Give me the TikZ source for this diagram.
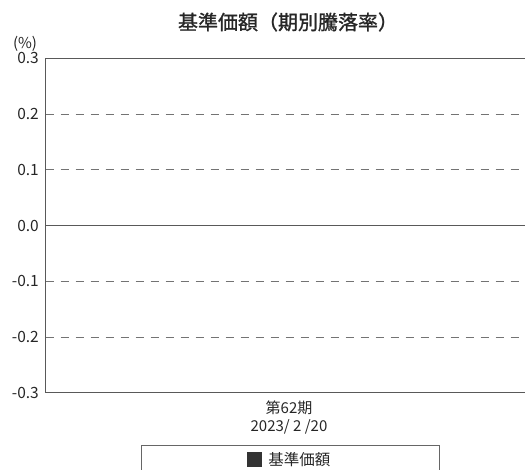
\documentclass[tikz,border=0pt]{standalone}
\usepackage{fontspec}
\setmainfont{Noto Sans CJK JP}
\newfontfamily\titlefont[FakeBold=1.2]{Noto Sans CJK JP}
\usetikzlibrary{positioning}

\begin{document}
\begin{tikzpicture}[x=1pt,y=-1pt]
\tikzstyle{every node}=[inner sep=0pt, text=black!85]
\tikzstyle{tick}=[anchor=east, font=\fontsize{15.5}{18}\selectfont]
\tikzstyle{frame}=[draw=black!65, line width=0.9pt]
\tikzstyle{grid}=[draw=black!55, line width=0.8pt, dash pattern=on 8pt off 7pt]
\useasboundingbox (0,0) rectangle (525,470);
\node (title) at (288,22) {\fontsize{20}{23}\selectfont\titlefont 基準価額（期別騰落率）};
\node (unit) at (25,44) {\fontsize{15}{17}\selectfont (\%)};
% y axis labels and grid lines
\foreach \lab [count=\i from 0] in {0.3,0.2,0.1,0.0,-0.1,-0.2,-0.3} {
  \pgfmathsetmacro{\yy}{58.3+55.73*\i}
  \node[tick] (t\i) at (39,\yy) {\lab};
  \coordinate (g\i) at (45.5,\yy);
  \coordinate (h\i) at (525,\yy);
}
\foreach \i in {1,2,4,5} \draw[grid] (g\i) -- (h\i);
\draw[frame] (h0) -- (g0) -- (g6) -- (h6);
\draw[frame] (g3) -- (h3);
% period label
\node[font=\fontsize{15}{17}\selectfont] (per) at (289,408) {第62期};
\node[font=\fontsize{15}{17}\selectfont, below=4pt of per] (date) {2023/ 2 /20};
% legend
\coordinate (la) at (141.7,470);
\coordinate (lb) at (439.3,470);
\draw[draw=black!60, line width=0.9pt] (la) |- (lb |- 0,445.7) -- (lb);
\node[fill=black!80, minimum size=15pt] (key) at (254.5,459.3) {};
\node[right=6pt of key, font=\fontsize{15.5}{18}\selectfont] (leg) {基準価額};
\end{tikzpicture}
\end{document}
